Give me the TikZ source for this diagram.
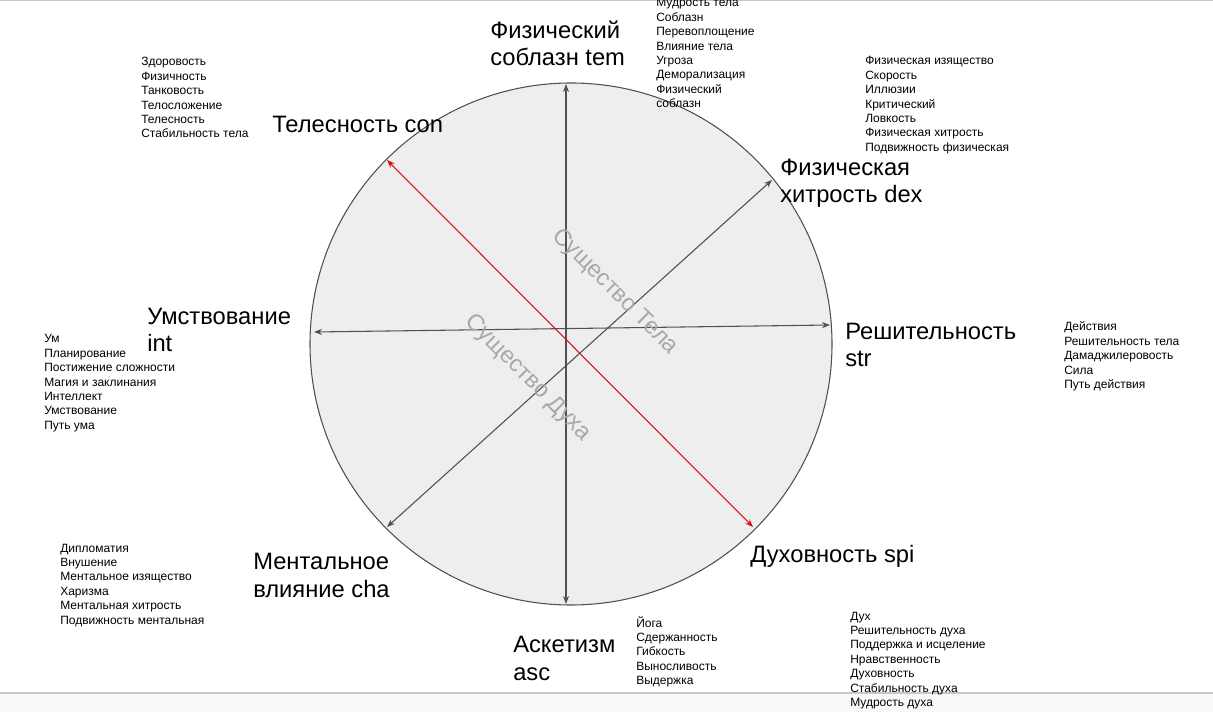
\documentclass[tikz,border=0pt]{standalone}
\usepackage{fontspec}
\setmainfont{Liberation Sans}
\usetikzlibrary{arrows.meta}
\definecolor{axisgray}{HTML}{505050}
\definecolor{fillgray}{HTML}{EEEEEE}
\definecolor{wmgray}{HTML}{A8A8A8}
\definecolor{arrred}{HTML}{E01010}
\definecolor{bottomgray}{HTML}{F8F9FA}
\definecolor{edgegray}{HTML}{C8C8C8}
\begin{document}
\begin{tikzpicture}[x=0.75pt,y=-0.75pt,
  biglabel/.style={anchor=base west,inner sep=0,align=left,font=\fontsize{17.8}{20.3}\selectfont},
  smalllist/.style={anchor=base west,inner sep=0,align=left,font=\fontsize{9}{10.8}\selectfont},
  axis/.style={draw=axisgray,line width=0.8pt,{Stealth[length=6pt,width=4.5pt]}-{Stealth[length=6pt,width=4.5pt]}},
  redaxis/.style={draw=arrred,line width=0.8pt,{Stealth[length=6pt,width=4.5pt]}-{Stealth[length=6pt,width=4.5pt]}},
  watermark/.style={text=wmgray,inner sep=0,font=\fontsize{17.6}{20}\selectfont}]
\useasboundingbox (0,0) rectangle (1213,712);
\fill[white] (0,0) rectangle (1213,712);
\fill[bottomgray] (0,693) rectangle (1213,712);
\draw[edgegray,line width=1pt] (0,693) -- (1213,693);
\draw[edgegray,line width=1pt] (0,0.5) -- (1213,0.5);

\node[circle,draw=axisgray,fill=fillgray,line width=0.8pt,minimum size=391.5pt,inner sep=0] (c) at (571,344) {};

\coordinate (temEnd) at (566,84);
\coordinate (ascEnd) at (566,604);
\coordinate (intEnd) at (314,332);
\coordinate (strEnd) at (830,325);
\coordinate (conEnd) at (387,160);
\coordinate (spiEnd) at (753,527);
\coordinate (dexEnd) at (772,180);
\coordinate (chaEnd) at (387,527);

\draw[axis] (temEnd) -- (ascEnd);
\draw[axis] (intEnd) -- (strEnd);
\draw[axis] (dexEnd) -- (chaEnd);
\draw[redaxis] (conEnd) -- (spiEnd);

\node[watermark,rotate=-45] (wmBody) at (615,292) {Существо Тела};
\node[watermark,rotate=-45] (wmSpirit) at (528,378) {Существо Духа};

\node[biglabel] (tem) at (490,66) {Физический\\соблазн tem};
\node[biglabel] (con) at (272,133) {Телесность con};
\node[biglabel] (dex) at (780,203) {Физическая\\хитрость dex};
\node[biglabel] (str) at (845,367) {Решительность\\str};
\node[biglabel] (int) at (147,352) {Умствование\\int};
\node[biglabel] (cha) at (253,597) {Ментальное\\влияние cha};
\node[biglabel] (asc) at (513,680) {Аскетизм\\asc};
\node[biglabel] (spi) at (750,562) {Духовность spi};

\node[smalllist] (conList) at (141,138) {Здоровость\\Физичность\\Танковость\\Телосложение\\Телесность\\Стабильность тела};
\node[smalllist] (temList) at (656,107.8) {Мудрость тела\\Соблазн\\Перевоплощение\\Влияние тела\\Угроза\\Деморализация\\Физический\\соблазн};
\node[smalllist] (dexList) at (865,151.4) {Физическая изящество\\Скорость\\Иллюзии\\Критический\\Ловкость\\Физическая хитрость\\Подвижность физическая};
\node[smalllist] (strList) at (1064,388.6) {Действия\\Решительность тела\\Дамаджилеровость\\Сила\\Путь действия};
\node[smalllist] (intList) at (44,429.4) {Ум\\Планирование\\Постижение сложности\\Магия и заклинания\\Интеллект\\Умствование\\Путь ума};
\node[smalllist] (chaList) at (60,624) {Дипломатия\\Внушение\\Ментальное изящество\\Харизма\\Ментальная хитрость\\Подвижность ментальная};
\node[smalllist] (ascList) at (636,684.6) {Йога\\Сдержанность\\Гибкость\\Выносливость\\Выдержка};
\node[smalllist] (spiList) at (850,706.4) {Дух\\Решительность духа\\Поддержка и исцеление\\Нравственность\\Духовность\\Стабильность духа\\Мудрость духа};
\end{tikzpicture}
\end{document}
